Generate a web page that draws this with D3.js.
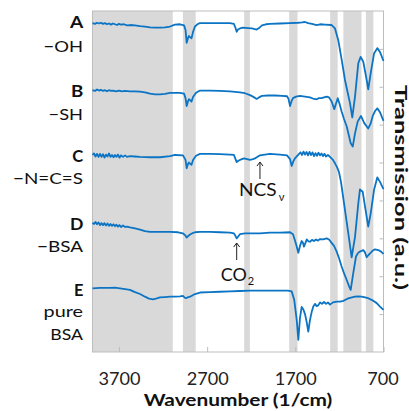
<!DOCTYPE html>
<html><head><meta charset="utf-8">
<script src="https://cdn.jsdelivr.net/npm/d3@7"></script>
<style>html,body{margin:0;padding:0;background:#fff;}svg{display:block;}</style>
</head><body>
<svg id="chart" width="409" height="411"></svg>
<script>
// ---------- DATA ----------
const xTicks = [3700, 2700, 1700, 700];
const yTicks = [1, 2, 3, 4, 5, 6, 7, 8];
const xAxisTitle = "Wavenumber (1/cm)";
const yAxisTitle = "Transmission (a.u.)";
// shaded wavenumber bands [from, to]
const bands = [[4000, 3090], [2975, 2830], [2280, 2215], [1770, 1675], [1305, 1220], [1155, 950], [900, 815]];
const seriesLetters = ["A", "B", "C", "D", "E"];
const seriesNames = [["\u2212OH"], ["\u2212SH"], ["\u2212N=C=S"], ["\u2212BSA"], ["pure", "BSA"]];

// [wavenumber (1/cm), transmission (a.u., offset)]
const specA = [[4000,8.68],[3972,8.66],[3949,8.69],[3926,8.67],[3904,8.69],[3881,8.66],[3858,8.68],[3836,8.65],[3813,8.67],[3790,8.64],[3768,8.67],[3745,8.65],[3722,8.63],[3700,8.66],[3677,8.64],[3643,8.65],[3609,8.62],[3575,8.63],[3518,8.62],[3461,8.60],[3405,8.59],[3348,8.57],[3291,8.56],[3235,8.56],[3178,8.57],[3121,8.59],[3065,8.64],[3008,8.65],[2962,8.62],[2945,8.50],[2932,8.16],[2917,8.29],[2906,8.34],[2894,8.31],[2877,8.28],[2860,8.45],[2838,8.59],[2804,8.66],[2781,8.68],[2668,8.68],[2555,8.68],[2441,8.68],[2396,8.66],[2378,8.55],[2365,8.45],[2350,8.51],[2328,8.54],[2293,8.56],[2237,8.55],[2192,8.54],[2138,8.51],[2112,8.55],[2078,8.62],[2033,8.65],[1987,8.66],[1874,8.67],[1760,8.68],[1670,8.69],[1624,8.70],[1590,8.71],[1556,8.68],[1511,8.66],[1458,8.63],[1420,8.65],[1364,8.64],[1288,8.63],[1250,8.54],[1213,8.23],[1174,7.71],[1137,7.18],[1080,6.57],[1054,6.19],[1023,6.74],[986,7.62],[959,7.79],[929,7.66],[891,7.18],[873,6.93],[845,7.36],[807,7.88],[770,8.02],[740,7.92],[700,7.68]];
const specB = [[4000,6.91],[3972,6.89],[3949,6.93],[3926,6.90],[3904,6.92],[3881,6.89],[3858,6.91],[3836,6.88],[3813,6.91],[3790,6.89],[3768,6.90],[3734,6.88],[3700,6.90],[3665,6.88],[3631,6.89],[3575,6.88],[3518,6.88],[3461,6.87],[3405,6.85],[3348,6.82],[3291,6.80],[3235,6.80],[3178,6.81],[3121,6.84],[3065,6.84],[3008,6.84],[2962,6.82],[2945,6.70],[2932,6.49],[2917,6.62],[2906,6.67],[2894,6.65],[2877,6.61],[2860,6.73],[2826,6.84],[2781,6.90],[2668,6.90],[2555,6.89],[2441,6.88],[2328,6.85],[2271,6.83],[2214,6.78],[2180,6.74],[2138,6.68],[2112,6.72],[2078,6.76],[2010,6.77],[1930,6.77],[1851,6.76],[1794,6.75],[1777,6.68],[1760,6.49],[1743,6.62],[1726,6.70],[1692,6.74],[1647,6.76],[1590,6.74],[1534,6.72],[1500,6.69],[1458,6.67],[1432,6.70],[1401,6.70],[1375,6.72],[1344,6.74],[1318,6.72],[1288,6.61],[1258,6.41],[1239,6.55],[1219,6.70],[1199,6.55],[1174,6.34],[1148,6.15],[1117,5.95],[1072,5.51],[1049,5.42],[1023,5.77],[993,6.08],[956,6.23],[918,6.04],[873,5.90],[847,6.02],[822,6.23],[796,6.36],[770,6.43],[740,6.33],[700,6.10]];
const specC = [[4000,5.20],[3983,5.24],[3966,5.16],[3949,5.23],[3932,5.15],[3915,5.23],[3898,5.15],[3881,5.22],[3864,5.13],[3847,5.21],[3830,5.16],[3813,5.24],[3796,5.15],[3779,5.20],[3762,5.14],[3745,5.20],[3728,5.15],[3711,5.21],[3694,5.13],[3677,5.19],[3654,5.15],[3631,5.19],[3609,5.15],[3575,5.17],[3518,5.16],[3461,5.15],[3348,5.14],[3235,5.14],[3121,5.17],[3065,5.20],[2974,5.19],[2945,5.07],[2932,4.85],[2917,4.96],[2906,5.00],[2894,4.97],[2877,4.94],[2860,5.07],[2826,5.18],[2781,5.23],[2668,5.23],[2555,5.22],[2441,5.21],[2396,5.20],[2378,5.09],[2365,5.01],[2350,5.04],[2328,5.07],[2282,5.11],[2248,5.09],[2214,5.07],[2180,5.09],[2158,5.11],[2124,5.16],[2101,5.19],[2044,5.21],[1987,5.23],[1874,5.21],[1794,5.19],[1760,5.09],[1741,4.91],[1721,5.04],[1704,5.11],[1681,5.17],[1658,5.23],[1641,5.27],[1624,5.20],[1607,5.29],[1590,5.21],[1573,5.28],[1556,5.19],[1539,5.28],[1522,5.20],[1505,5.27],[1488,5.17],[1471,5.25],[1454,5.18],[1437,5.26],[1420,5.19],[1403,5.24],[1386,5.17],[1369,5.23],[1352,5.16],[1330,5.20],[1307,5.15],[1273,5.07],[1250,4.98],[1227,4.88],[1205,4.75],[1182,4.49],[1156,4.06],[1099,3.13],[1061,2.50],[1023,3.04],[986,3.92],[967,4.29],[936,4.23],[921,4.01],[873,3.31],[845,3.66],[807,4.28],[770,4.61],[740,4.49],[700,4.30]];
const specD = [[4000,3.41],[3983,3.38],[3966,3.43],[3949,3.37],[3932,3.42],[3915,3.35],[3898,3.40],[3881,3.35],[3864,3.40],[3847,3.34],[3830,3.39],[3813,3.33],[3796,3.38],[3779,3.33],[3762,3.37],[3745,3.32],[3728,3.36],[3711,3.31],[3694,3.35],[3677,3.30],[3654,3.34],[3631,3.30],[3609,3.31],[3575,3.29],[3518,3.26],[3461,3.23],[3405,3.19],[3348,3.17],[3235,3.17],[3121,3.17],[3030,3.16],[2974,3.13],[2951,3.09],[2932,3.02],[2911,3.07],[2894,3.10],[2872,3.13],[2838,3.16],[2781,3.17],[2668,3.17],[2555,3.16],[2441,3.15],[2396,3.13],[2378,3.06],[2365,3.00],[2350,3.04],[2328,3.11],[2271,3.13],[2214,3.13],[2101,3.13],[1987,3.15],[1874,3.15],[1760,3.16],[1726,3.11],[1692,2.85],[1666,2.62],[1647,2.80],[1628,2.93],[1613,2.88],[1602,2.78],[1585,2.88],[1571,2.97],[1551,2.92],[1534,2.91],[1511,2.96],[1488,2.93],[1466,2.97],[1443,2.94],[1420,2.98],[1386,2.97],[1344,3.00],[1318,2.97],[1288,2.88],[1261,2.80],[1231,2.65],[1205,2.48],[1174,2.25],[1148,2.08],[1117,1.90],[1091,1.74],[1072,1.64],[1043,2.08],[1012,2.52],[990,2.61],[967,2.65],[929,2.69],[910,2.63],[891,2.50],[870,2.56],[853,2.60],[825,2.67],[796,2.71],[759,2.69],[728,2.65],[700,2.59]];
const specE = [[4000,1.68],[3915,1.69],[3802,1.69],[3745,1.70],[3688,1.68],[3631,1.66],[3575,1.64],[3518,1.58],[3461,1.53],[3405,1.46],[3359,1.41],[3314,1.39],[3280,1.41],[3235,1.44],[3178,1.45],[3121,1.46],[3065,1.46],[3008,1.47],[2974,1.48],[2957,1.44],[2940,1.42],[2923,1.44],[2894,1.46],[2838,1.53],[2781,1.57],[2668,1.58],[2555,1.59],[2441,1.60],[2328,1.61],[2214,1.62],[2101,1.62],[1987,1.62],[1874,1.62],[1783,1.62],[1741,1.60],[1712,1.37],[1684,0.84],[1666,0.32],[1647,0.90],[1628,1.19],[1610,1.13],[1590,1.00],[1571,0.79],[1553,0.54],[1534,0.84],[1514,1.06],[1496,1.20],[1477,1.27],[1458,1.21],[1440,1.23],[1420,1.31],[1398,1.27],[1375,1.32],[1352,1.27],[1330,1.31],[1307,1.25],[1273,1.31],[1231,1.33],[1193,1.33],[1156,1.35],[1114,1.40],[1080,1.43],[1023,1.46],[990,1.47],[948,1.46],[910,1.44],[873,1.42],[830,1.37],[777,1.29],[740,1.20],[700,1.11]];
const spectra = [specA, specB, specC, specD, specE];

// ---------- LAYOUT ----------
const svg = d3.select("#chart");
const L = 92.5, R = 383.5, T = 11, B = 352;
const x = d3.scaleLinear().domain([4000, 700]).range([L, R]);
const y = d3.scaleLinear().domain([0, 9]).range([B, T]);
const FONT = "Lato, 'Open Sans', sans-serif";
const lineColor = "#0b74c4";
const frameColor = "#bdbdbd";

// bands
svg.append("g").selectAll("rect").data(bands).join("rect")
  .attr("x", d => x(d[0])).attr("width", d => x(d[1]) - x(d[0]))
  .attr("y", T).attr("height", B - T).attr("fill", "#d9d9d9");

// bottom axis
const gx = svg.append("g").attr("transform", `translate(0,${B})`)
  .call(d3.axisBottom(x).tickValues(xTicks).tickFormat(d3.format("d"))
    .tickSizeInner(-5).tickSizeOuter(0).tickPadding(21));
gx.select(".domain").remove();
gx.selectAll("line").attr("stroke", frameColor);
gx.selectAll("text").attr("font-family", FONT).attr("font-size", 17).attr("fill", "#222")
  .attr("textLength", d => String(d).length * 10.5).attr("lengthAdjust", "spacingAndGlyphs")
  .attr("dx", d => d === 700 ? -1 : 0);

// right axis (ticks only)
const gy = svg.append("g").attr("transform", `translate(${R},0)`)
  .call(d3.axisRight(y).tickValues(yTicks).tickFormat("").tickSizeInner(-4).tickSizeOuter(0));
gy.select(".domain").remove();
gy.selectAll("line").attr("stroke", frameColor);

// frame
svg.append("rect").attr("x", L).attr("y", T).attr("width", R - L).attr("height", B - T)
  .attr("fill", "none").attr("stroke", frameColor).attr("stroke-width", 1);

// spectra
const line = d3.line().x(d => x(d[0])).y(d => y(d[1]));
svg.append("g").selectAll("path").data(spectra).join("path")
  .attr("d", line).attr("fill", "none").attr("stroke", lineColor)
  .attr("stroke-width", 1.8).attr("stroke-linejoin", "round");

// series labels
const letterY = [28.3, 96.7, 161.7, 229.5, 296];
const letterW = [13.3, 12.3, 11, 13.4, 9.4];
const nameY = [[52.3], [120], [184], [251.7], [316.7, 340]];
const nameW = [[39.4], [34.4], [70], [46], [39.4, 32.7]];
const lab = svg.append("g").attr("font-family", FONT).attr("text-anchor", "end").attr("fill", "#111");
seriesLetters.forEach((s, i) => {
  lab.append("text").attr("x", 83.3).attr("y", letterY[i]).attr("font-size", 17).attr("font-weight", "bold")
    .attr("textLength", letterW[i]).attr("lengthAdjust", "spacingAndGlyphs").text(s);
  seriesNames[i].forEach((n, j) => {
    lab.append("text").attr("x", 83).attr("y", nameY[i][j]).attr("font-size", 16)
      .attr("textLength", nameW[i][j]).attr("lengthAdjust", "spacingAndGlyphs").text(n);
  });
});

// annotations: NCSν and CO2 arrows
function arrow(wn, y1, y2) {
  const g = svg.append("g").attr("stroke", "#222").attr("stroke-width", 1).attr("fill", "none");
  const xx = x(wn);
  g.append("line").attr("x1", xx).attr("x2", xx).attr("y1", y1).attr("y2", y2);
  g.append("path").attr("d", `M${xx - 3},${y1 + 4}L${xx},${y1}L${xx + 3},${y1 + 4}`);
}
arrow(2101, 162, 179);
arrow(2365, 243, 260);
const ncs = svg.append("text").attr("x", 239).attr("y", 195.7)
  .attr("font-family", FONT).attr("font-size", 18).attr("fill", "#111");
ncs.append("tspan").attr("textLength", 37.7).attr("lengthAdjust", "spacingAndGlyphs").text("NCS");
ncs.append("tspan").attr("font-size", 11).attr("dx", 2).attr("dy", 5).text("\u03bd");
const co2 = svg.append("text").attr("x", 220.7).attr("y", 281)
  .attr("font-family", FONT).attr("font-size", 18).attr("fill", "#111");
co2.append("tspan").attr("textLength", 26).attr("lengthAdjust", "spacingAndGlyphs").text("CO");
co2.append("tspan").attr("font-size", 11).attr("dx", 1).attr("dy", 4).text("2");

// axis titles
svg.append("text").attr("x", (L + R) / 2).attr("y", 406).attr("text-anchor", "middle")
  .attr("font-family", FONT).attr("font-size", 17).attr("font-weight", "bold").attr("fill", "#111")
  .attr("textLength", 188.7).attr("lengthAdjust", "spacingAndGlyphs")
  .text(xAxisTitle);
svg.append("text").attr("transform", `translate(395,187.5) rotate(90)`).attr("text-anchor", "middle")
  .attr("font-family", FONT).attr("font-size", 17).attr("font-weight", "bold").attr("fill", "#111")
  .attr("textLength", 205).attr("lengthAdjust", "spacingAndGlyphs")
  .text(yAxisTitle);
</script>
</body></html>
